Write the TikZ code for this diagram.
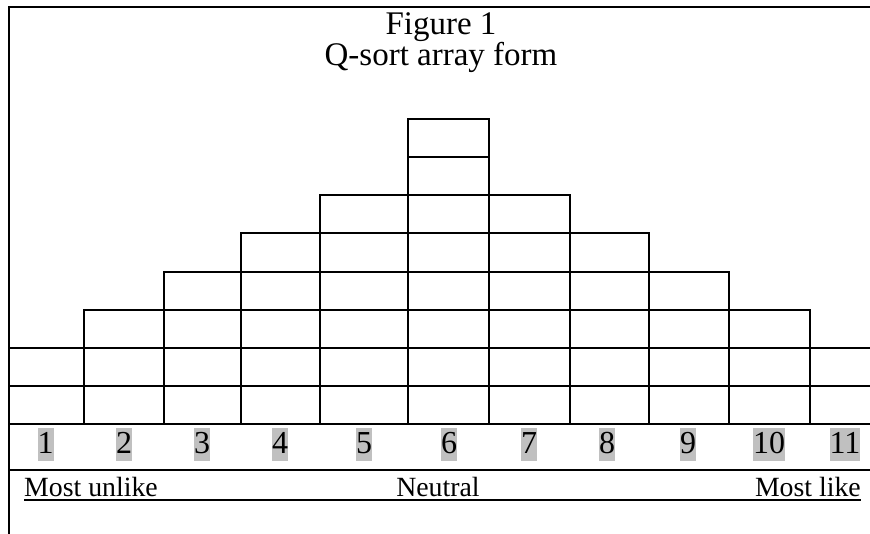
\documentclass[tikz,border=0pt]{standalone}
\usepackage{fontspec}
\setmainfont{Liberation Serif}
\definecolor{SortGrey}{RGB}{192,192,192}
\usetikzlibrary{positioning}

\begin{document}
\begin{tikzpicture}[
    x=1pt, y=-1pt,
    frm/.style={line width=2.4pt},
    cell/.style={line width=2pt},
    uline/.style={line width=2.2pt},
    ttl/.style={font=\fontsize{33}{29.5}\selectfont, align=center, inner sep=0pt},
    colnum/.style={fill=SortGrey, inner sep=0pt, text height=25pt, text depth=8pt,
      anchor=base, font=\fontsize{32}{36}\selectfont},
    lbl/.style={font=\fontsize{27.8}{32}\selectfont, anchor=base, inner sep=0pt}
  ]
    \useasboundingbox (0,0) rectangle (870,534);
    % outer frame
    \draw[frm] (873,7) -- (9,7) -- (9,536);
    % title
    \node[ttl,anchor=north](title) at (441,12.5){Figure 1\\Q-sort array form};
    % columns of cells: left/right edge, number of cells
    \foreach \xl/\xr/\n in {9/84/2, 84/164/3, 164/241/4, 241/320/5, 320/408/6,
        408/489/8, 489/570/6, 570/649/5, 649/729/4, 729/810/3, 810/873/2}{
      \foreach \k in {1,...,\n}{
        \draw[cell] (\xl,{424-38.1*\k}) rectangle (\xr,{424-38.1*(\k-1)});
      }
    }
    \draw[cell] (9,424) -- (873,424);
    \draw[cell] (9,470) -- (873,470);
    % column numbers
    \foreach \i/\cx in {1/45.5, 2/124, 3/202, 4/280, 5/364, 6/449, 7/529,
        8/607, 9/688, 10/769, 11/845}{
      \node[colnum](num\i) at (\cx,453){\i};
    }
    % scale labels
    \node[lbl,anchor=base west](unlike) at (24,496){Most unlike};
    \node[lbl](neutral) at (438,496){Neutral};
    \node[lbl,anchor=base east](like) at (861,496){Most like};
    \draw[uline]([yshift=-4pt]unlike.base west)--([yshift=-4pt]like.base east);
  \end{tikzpicture}
\end{document}
